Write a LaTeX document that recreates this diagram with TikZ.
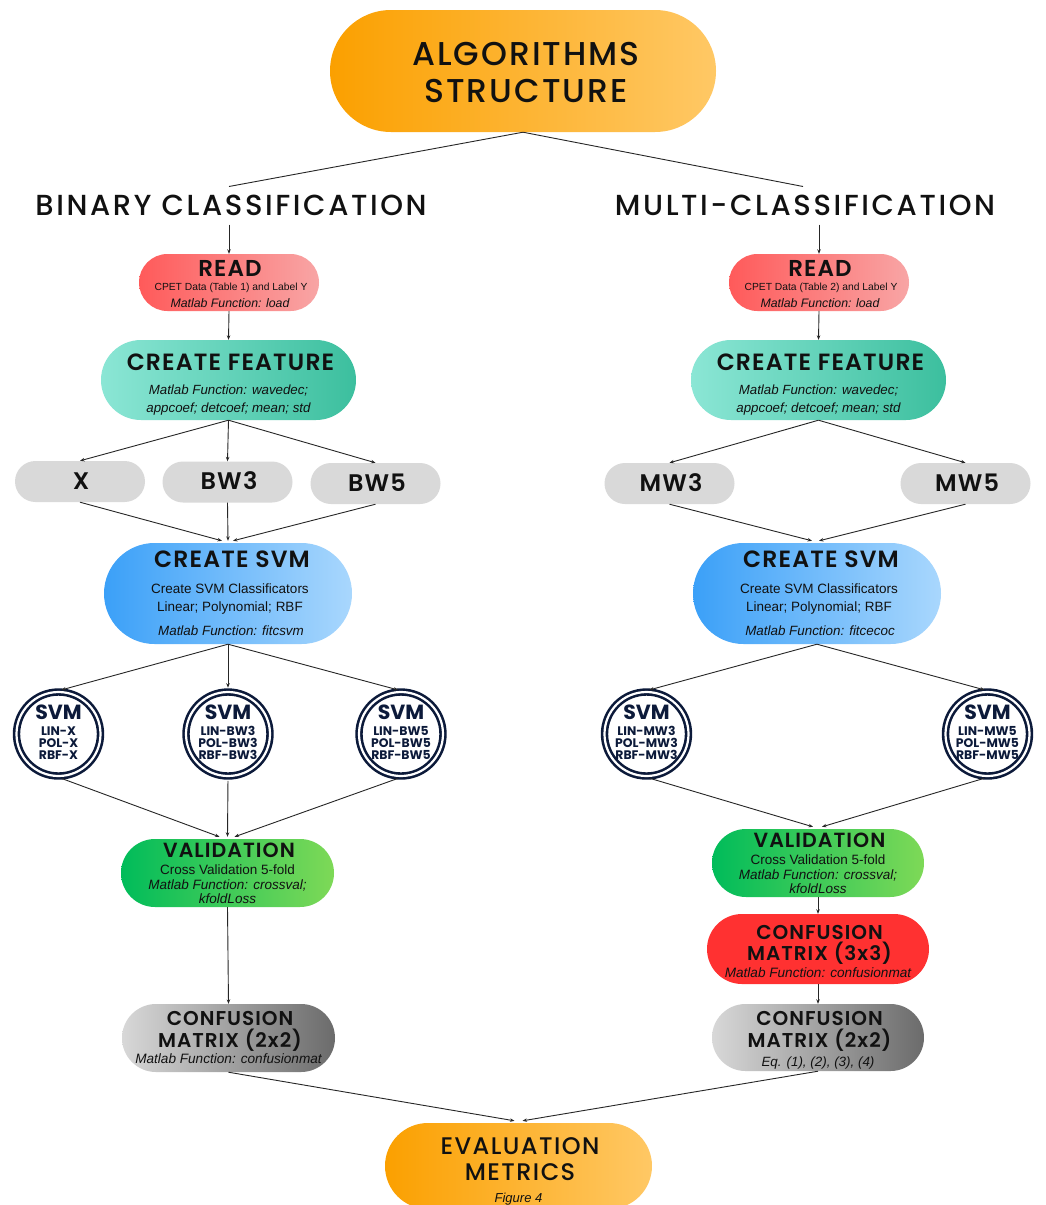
\documentclass[tikz,border=0pt]{standalone}
\usepackage{fontspec}
\setmainfont{Liberation Sans}
\newfontfamily\pop{Poppins}
\newfontfamily\popsb[LetterSpace=5]{Poppins SemiBold}
\newfontfamily\popmd[LetterSpace=6]{Poppins Medium}
\newfontfamily\popmw[LetterSpace=9]{Poppins Medium}
\usetikzlibrary{shapes.misc,arrows.meta}
\definecolor{orL}{HTML}{FBA000}
\definecolor{orR}{HTML}{FFC865}
\definecolor{rdL}{HTML}{FF5A5A}
\definecolor{rdR}{HTML}{F8A5A5}
\definecolor{tlL}{HTML}{8BE6D5}
\definecolor{tlR}{HTML}{3CBF9E}
\definecolor{gyB}{HTML}{D9D9D9}
\definecolor{blL}{HTML}{3BA0F8}
\definecolor{blR}{HTML}{A9D7FD}
\definecolor{grL}{HTML}{00BC5A}
\definecolor{grR}{HTML}{7ED957}
\definecolor{rdT}{HTML}{FF3131}
\definecolor{cmL}{HTML}{D8D8D8}
\definecolor{cmR}{HTML}{6B6B6B}
\definecolor{navy}{HTML}{0C1A3A}
\definecolor{ink}{HTML}{111111}
\newcommand\Hd[1]{\popsb\fontsize{#1}{#1}\selectfont}
\newcommand\Md[1]{\popmd\fontsize{#1}{#1}\selectfont}
\newcommand\Cb[1]{\pop\bfseries\fontsize{#1}{#1}\selectfont}
\newcommand\Rg[1]{\fontsize{#1}{#1}\selectfont}
\newcommand\It[1]{\itshape\fontsize{#1}{#1}\selectfont}
\tikzset{
  pill/.style={rounded rectangle, inner sep=0pt, draw=none},
  txt/.style={anchor=base, inner sep=0pt, text=ink},
  arr/.style={-{Stealth[length=4.5pt,width=3.5pt]}, line width=0.9pt, draw=black!85},
  ln/.style={line width=0.9pt, draw=black!85},
  svmc/.style={circle, draw=navy, line width=2.6pt, double=white, double distance=2.2pt, minimum size=84pt, inner sep=0pt, fill=white},
  gray box/.style={pill, fill=gyB, minimum width=130pt, minimum height=41pt},
  cls/.style={inner sep=8.5pt, font=\popmw\fontsize{29}{29}\selectfont, text=ink},
}
\begin{document}
\begin{tikzpicture}[x=1pt,y=-1pt]
\useasboundingbox (0,0) rectangle (1045,1205);
\fill[white] (0,0) rectangle (1045,1205);

% ---- top
\node[pill, left color=orL, right color=orR, minimum width=386pt, minimum height=122pt] (alg) at (523,71) {};
\node[txt, font=\Md{33}] (algt1) at (526,65) {ALGORITHMS};
\node[txt, font=\Md{33}] (algt2) at (526,102) {STRUCTURE};

\node[cls] (binT) at (231,205.5) {BINARY CLASSIFICATION};
\node[cls] (mulT) at (805,205.5) {MULTI-CLASSIFICATION};

% ---- READ
\node[pill, left color=rdL, right color=rdR, minimum width=180pt, minimum height=57pt] (readL) at (229,282.5) {};
\node[txt, font=\Hd{23}] (readLt1) at (230,276) {READ};
\node[txt, font=\Rg{10.3}] (readLt2) at (231,290) {CPET Data (Table 1) and Label Y};
\node[txt, font=\It{12.3}] (readLt3) at (230,307) {Matlab Function: load};

\node[pill, left color=rdL, right color=rdR, minimum width=180pt, minimum height=57pt] (readR) at (819,282.5) {};
\node[txt, font=\Hd{23}] (readRt1) at (820,276) {READ};
\node[txt, font=\Rg{10.3}] (readRt2) at (821,290) {CPET Data (Table 2) and Label Y};
\node[txt, font=\It{12.3}] (readRt3) at (820,307) {Matlab Function: load};

% ---- CREATE FEATURE
\node[pill, left color=tlL, right color=tlR, minimum width=255pt, minimum height=80pt] (cfL) at (228.5,380) {};
\node[txt, font=\Hd{23.5}] (cfLt1) at (230.5,370) {CREATE FEATURE};
\node[txt, font=\It{13.3}] (cfLt2) at (228.5,394) {Matlab Function: wavedec;};
\node[txt, font=\It{13.3}] (cfLt3) at (228.5,412) {appcoef; detcoef; mean; std};

\node[pill, left color=tlL, right color=tlR, minimum width=255pt, minimum height=80pt] (cfR) at (818.5,380) {};
\node[txt, font=\Hd{23.5}] (cfRt1) at (820.5,370) {CREATE FEATURE};
\node[txt, font=\It{13.3}] (cfRt2) at (818.5,394) {Matlab Function: wavedec;};
\node[txt, font=\It{13.3}] (cfRt3) at (818.5,412) {appcoef; detcoef; mean; std};

% ---- feature sets
\node[gray box] (xN) at (80,481.5) {};
\node[txt, font=\Hd{24}] (xNt) at (81,489) {X};
\node[gray box] (bw3) at (227.5,482) {};
\node[txt, font=\Hd{24}] (bw3t) at (229,489) {BW3};
\node[gray box] (bw5) at (375.5,483.5) {};
\node[txt, font=\Hd{24}] (bw5t) at (377,491) {BW5};
\node[gray box] (mw3) at (669.5,483.5) {};
\node[txt, font=\Hd{24}] (mw3t) at (671,491) {MW3};
\node[gray box] (mw5) at (965.5,483.5) {};
\node[txt, font=\Hd{24}] (mw5t) at (967,491) {MW5};

% ---- CREATE SVM
\node[pill, left color=blL, right color=blR, minimum width=248pt, minimum height=101pt] (svmL) at (228,593.5) {};
\node[txt, font=\Hd{23.5}] (svmLt1) at (232,567) {CREATE SVM};
\node[txt, font=\Rg{13.5}] (svmLt2) at (230,593) {Create SVM Classificators};
\node[txt, font=\Rg{13.5}] (svmLt3) at (230,611) {Linear; Polynomial; RBF};
\node[txt, font=\It{13.4}] (svmLt4) at (231,635) {Matlab Function: fitcsvm};

\node[pill, left color=blL, right color=blR, minimum width=248pt, minimum height=101pt] (svmR) at (817,593.5) {};
\node[txt, font=\Hd{23.5}] (svmRt1) at (821,567) {CREATE SVM};
\node[txt, font=\Rg{13.5}] (svmRt2) at (819,593) {Create SVM Classificators};
\node[txt, font=\Rg{13.5}] (svmRt3) at (819,611) {Linear; Polynomial; RBF};
\node[txt, font=\It{13.4}] (svmRt4) at (820,635) {Matlab Function: fitcecoc};

% ---- SVM circles
\foreach \n/\cx/\s in {c1/58.5/X, c2/228/BW3, c3/401/BW5, c4/646.5/MW3, c5/987.5/MW5}{
  \node[svmc] (\n) at (\cx,734) {};
  \node[txt, text=navy, font=\Cb{20.5}] (\n t1) at (\cx,719) {SVM};
  \node[txt, text=navy, font=\Cb{12.4}] (\n t2) at (\cx,735) {LIN-\s};
  \node[txt, text=navy, font=\Cb{12.4}] (\n t3) at (\cx,747) {POL-\s};
  \node[txt, text=navy, font=\Cb{12.4}] (\n t4) at (\cx,759) {RBF-\s};
}

% ---- VALIDATION
\node[pill, left color=grL, right color=grR, minimum width=213pt, minimum height=68pt] (valL) at (227.5,873) {};
\node[txt, font=\Hd{20.5}] (valLt1) at (229,857) {VALIDATION};
\node[txt, font=\Rg{13.5}] (valLt2) at (227.5,874) {Cross Validation 5-fold};
\node[txt, font=\It{13.5}] (valLt3) at (227.5,889) {Matlab Function: crossval;};
\node[txt, font=\It{13.5}] (valLt4) at (227.5,903) {kfoldLoss};

\node[pill, left color=grL, right color=grR, minimum width=212pt, minimum height=68pt] (valR) at (818,863) {};
\node[txt, font=\Hd{20.5}] (valRt1) at (819.5,847) {VALIDATION};
\node[txt, font=\Rg{13.5}] (valRt2) at (818,864) {Cross Validation 5-fold};
\node[txt, font=\It{13.5}] (valRt3) at (818,879) {Matlab Function: crossval;};
\node[txt, font=\It{13.5}] (valRt4) at (818,893) {kfoldLoss};

% ---- CONFUSION
\node[pill, fill=rdT, minimum width=222pt, minimum height=70pt] (cm3) at (818,949) {};
\node[txt, font=\Hd{20}] (cm3t1) at (819.5,939) {CONFUSION};
\node[txt, font=\Hd{20}] (cm3t2) at (819.5,960) {MATRIX (3x3)};
\node[txt, font=\It{13.6}] (cm3t3) at (818,977) {Matlab Function: confusionmat};

\node[pill, left color=cmL, right color=cmR, minimum width=213pt, minimum height=68pt] (cm2L) at (228.5,1038) {};
\node[txt, font=\Hd{20}] (cm2Lt1) at (230,1025) {CONFUSION};
\node[txt, font=\Hd{20}] (cm2Lt2) at (230,1047) {MATRIX (2x2)};
\node[txt, font=\It{13.6}] (cm2Lt3) at (228.5,1063) {Matlab Function: confusionmat};

\node[pill, left color=cmL, right color=cmR, minimum width=212pt, minimum height=67pt] (cm2R) at (818,1037.5) {};
\node[txt, font=\Hd{20}] (cm2Rt1) at (819.5,1025) {CONFUSION};
\node[txt, font=\Hd{20}] (cm2Rt2) at (819.5,1047) {MATRIX (2x2)};
\node[txt, font=\It{13.4}] (cm2Rt3) at (818,1066) {Eq. (1), (2), (3), (4)};

% ---- EVALUATION
\node[pill, left color=orL, right color=orR, minimum width=267pt, minimum height=86pt] (eval) at (518.5,1166) {};
\node[txt, font=\Md{24}] (evalt1) at (520,1154) {EVALUATION};
\node[txt, font=\Md{24}] (evalt2) at (520,1180) {METRICS};
\node[txt, font=\It{13}] (evalt3) at (518.5,1202) {Figure 4};

% ---- connectors
\draw[ln] (alg.south) -- ([xshift=-2pt]binT.north);
\draw[ln] (alg.south) -- ([xshift=-2pt]mulT.north);
\draw[arr] (readL.north |- binT.south) -- (readL.north);
\draw[arr] (readR.north |- mulT.south) -- (readR.north);
\draw[arr] (readL.south) -- (cfL.north);
\draw[arr] (readR.south) -- (cfR.north);
\draw[arr] (cfL.south) -- (xN.north);
\draw[arr] (cfL.south) -- (bw3.north);
\draw[arr] (cfL.south) -- (bw5.north);
\draw[arr] (cfR.south) -- (mw3.north);
\draw[arr] (cfR.south) -- (mw5.north);
\draw[arr] (xN.south) -- ([xshift=-6pt,yshift=2pt]svmL.north);
\draw[arr] (bw3.south) -- ([yshift=2pt]svmL.north);
\draw[arr] (bw5.south) -- ([xshift=5pt,yshift=2pt]svmL.north);
\draw[arr] (mw3.south) -- ([xshift=-5pt,yshift=2pt]svmR.north);
\draw[arr] (mw5.south) -- ([xshift=2pt,yshift=2pt]svmR.north);
\foreach \c in {c1,c2,c3}{\draw[arr, shorten >=3pt] (svmL.south) -- (\c.north);}
\foreach \c in {c4,c5}{\draw[arr, shorten >=3pt] (svmR.south) -- (\c.north);}
\draw[arr, shorten <=3.5pt] (c1.south) -- ([xshift=-8pt,yshift=2pt]valL.north);
\draw[arr, shorten <=3.5pt] (c2.south) -- ([yshift=2pt]valL.north);
\draw[arr, shorten <=3.5pt] (c3.south) -- ([xshift=7pt,yshift=2pt]valL.north);
\draw[arr, shorten <=3.5pt] (c4.south) -- ([xshift=-5pt,yshift=2pt]valR.north);
\draw[arr, shorten <=3.5pt] (c5.south) -- ([xshift=4pt,yshift=2pt]valR.north);
\draw[arr] (valL.south) -- (cm2L.north);
\draw[arr] (valR.south) -- (cm3.north);
\draw[arr] (cm3.south) -- (cm2R.north);
\draw[arr] (cm2L.south) -- ([xshift=-4pt,yshift=2pt]eval.north);
\draw[arr] (cm2R.south) -- ([xshift=4pt,yshift=2pt]eval.north);
\end{tikzpicture}
\end{document}
